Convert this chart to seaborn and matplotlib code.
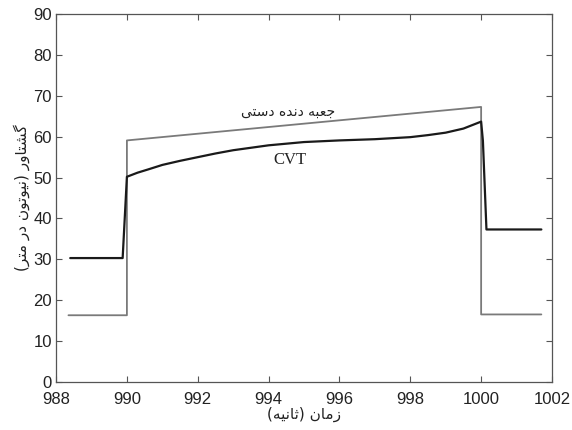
import matplotlib
matplotlib.use("Agg")
import matplotlib.pyplot as plt
import seaborn as sns
import pandas as pd

# Data
manual_t = [988.35, 990.0, 990.0, 1000.0, 1000.0, 1001.7]
manual_torque = [16.3, 16.3, 59.1, 67.3, 16.5, 16.5]

cvt_t = [988.4, 989.88, 990.0, 990.3, 990.6, 991.0, 991.5, 992.0, 992.5, 993.0,
         993.5, 994.0, 995.0, 996.0, 997.0, 998.0, 998.5, 999.0, 999.5, 1000.0,
         1000.05, 1000.15, 1001.7]
cvt_torque = [30.3, 30.3, 50.2, 51.2, 52.0, 53.1, 54.1, 55.0, 55.9, 56.7,
              57.3, 57.9, 58.7, 59.1, 59.4, 59.9, 60.4, 61.0, 62.0, 63.7,
              59.0, 37.3, 37.3]

xticks = [988, 990, 992, 994, 996, 998, 1000, 1002]
yticks = [0, 10, 20, 30, 40, 50, 60, 70, 80, 90]

# Persian texts in visual (shaped, right-to-left reordered) form
xlabel_txt = "(\uFEEA\uFBFF\uFEE7\uFE8E\uFE9B) \uFEE5\uFE8E\uFEE3\uFEAF"  # زمان (ثانیه)
ylabel_txt = ("(\uFEAE\uFE98\uFEE3 \uFEAD\uFEA9 \uFEE5\uFEEE\uFE97\uFEEE\uFBFF\uFEE7) "
              "\uFEAD\uFEED\uFE8E\uFE98\uFEB8\uFB94")  # گشتاور (نیوتون در متر)
manual_txt = "\uFBFD\uFE98\uFEB3\uFEA9 \uFEE9\uFEAA\uFEE7\uFEA9 \uFEEA\uFE92\uFECC\uFE9F"  # جعبه دنده دستی
cvt_txt = "CVT"

sns.set_theme(style="white")
plt.rcParams['font.family'] = ['Liberation Sans', 'DejaVu Sans']

df_manual = pd.DataFrame({"t": manual_t, "torque": manual_torque})
df_cvt = pd.DataFrame({"t": cvt_t, "torque": cvt_torque})

fig = plt.figure(figsize=(5.72, 4.30), dpi=100)
ax = fig.add_axes([0.098, 0.112, 0.867, 0.855])

sns.lineplot(data=df_manual, x="t", y="torque", sort=False, estimator=None,
             color="#7a7a7a", linewidth=1.3, ax=ax)
sns.lineplot(data=df_cvt, x="t", y="torque", sort=False, estimator=None,
             color="#1a1a1a", linewidth=1.6, ax=ax)

ax.set_xlim(988, 1002)
ax.set_ylim(0, 90)
ax.set_xticks(xticks)
ax.set_yticks(yticks)
ax.set_xticklabels([str(v) for v in xticks], fontsize=12, color="#222222")
ax.set_yticklabels([str(v) for v in yticks], fontsize=12, color="#222222")
ax.tick_params(direction="in", length=4, width=0.8, color="#555555",
               top=True, right=True, bottom=True, left=True)
ax.tick_params(axis="x", pad=7)
ax.tick_params(axis="y", pad=3)
for s in ax.spines.values():
    s.set_visible(True)
    s.set_color("#555555")
    s.set_linewidth(0.9)

ax.set_xlabel(xlabel_txt, fontsize=11, family=['DejaVu Sans'], color="#222222", labelpad=0)
ax.set_ylabel(ylabel_txt, fontsize=11, family=['DejaVu Sans'], color="#222222", labelpad=2)

ax.text(994.55, 66.0, manual_txt, fontsize=10, family=['DejaVu Sans'],
        ha="center", va="center", color="#222222")
ax.text(994.6, 54.3, cvt_txt, fontsize=12, family=['Liberation Serif'],
        ha="center", va="center", color="#222222")

fig.savefig("out.png", dpi=100)
